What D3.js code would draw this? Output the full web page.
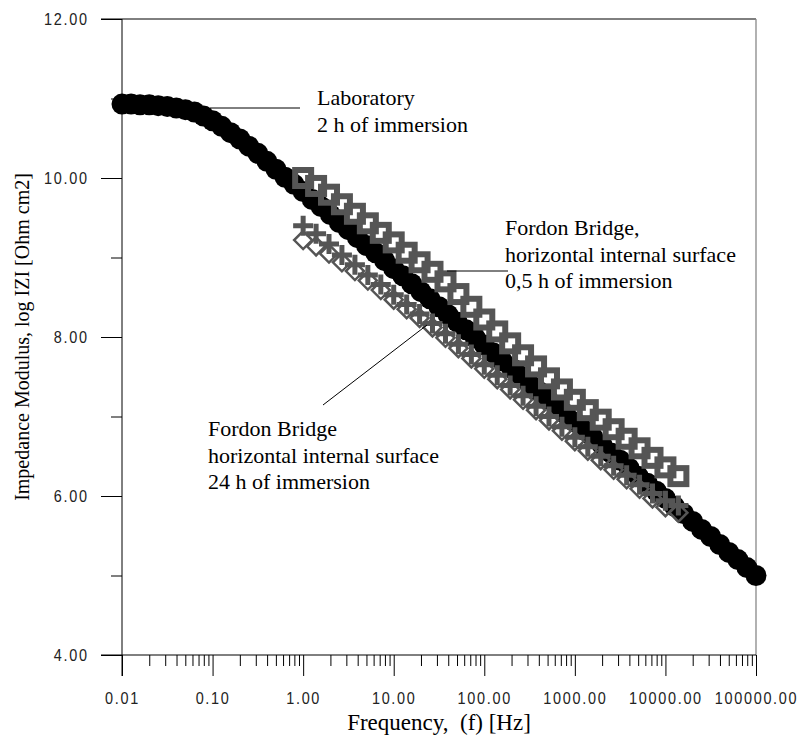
<!DOCTYPE html>
<html>
<head>
<meta charset="utf-8">
<script src="https://cdn.jsdelivr.net/npm/d3@7"></script>
<style>
  body { margin: 0; background: #fff; }
  .tick text { font-family: "Liberation Sans", Arial, sans-serif; }
</style>
</head>
<body>
<div class="chart"></div>
<script>
// laboratory sample, 10 points per decade
const freqLab = [0.01, 0.0126, 0.0158, 0.02, 0.0251, 0.0316, 0.0398, 0.0501, 0.0631, 0.0794,
  0.1, 0.126, 0.158, 0.2, 0.251, 0.316, 0.398, 0.501, 0.631, 0.794,
  1, 1.26, 1.58, 2, 2.51, 3.16, 3.98, 5.01, 6.31, 7.94,
  10, 12.6, 15.8, 20, 25.1, 31.6, 39.8, 50.1, 63.1, 79.4,
  100, 126, 158, 200, 251, 316, 398, 501, 631, 794,
  1000, 1260, 1580, 2000, 2510, 3160, 3980, 5010, 6310, 7940,
  10000, 12600, 15800, 20000, 25100, 31600, 39800, 50100, 63100, 79400, 100000];
const logZLab = [10.93, 10.93, 10.92, 10.92, 10.91, 10.90, 10.88, 10.86, 10.83, 10.78,
  10.72, 10.65, 10.57, 10.49, 10.40, 10.31, 10.21, 10.11, 10.01, 9.92,
  9.83, 9.73, 9.64, 9.54, 9.44, 9.35, 9.25, 9.15, 9.06, 8.96,
  8.86, 8.77, 8.67, 8.57, 8.48, 8.38, 8.28, 8.19, 8.09, 7.99,
  7.90, 7.80, 7.70, 7.61, 7.51, 7.41, 7.32, 7.22, 7.12, 7.03,
  6.93, 6.83, 6.74, 6.64, 6.54, 6.45, 6.35, 6.25, 6.16, 6.06,
  5.97, 5.87, 5.78, 5.68, 5.58, 5.49, 5.39, 5.29, 5.20, 5.10, 5.00];

// Fordon Bridge, 7 points per decade
const freqBridge = [1, 1.39, 1.93, 2.68, 3.73, 5.18, 7.2,
  10, 13.9, 19.3, 26.8, 37.3, 51.8, 72,
  100, 139, 193, 268, 373, 518, 720,
  1000, 1390, 1930, 2680, 3730, 5180, 7200,
  10000, 13900];
// 0,5 h of immersion (squares)
const logZHalf = [10.00, 9.90, 9.79, 9.67, 9.55, 9.43, 9.31,
  9.19, 9.06, 8.94, 8.82, 8.70, 8.54, 8.38,
  8.22, 8.07, 7.92, 7.77, 7.63, 7.48, 7.34,
  7.21, 7.08, 6.96, 6.84, 6.72, 6.60, 6.48,
  6.36, 6.25];
// 24 h of immersion (crosses)
const logZ24a = [9.40, 9.30, 9.17, 9.03, 8.91, 8.78, 8.66,
  8.53, 8.41, 8.29, 8.17, 8.04, 7.91, 7.78,
  7.65, 7.52, 7.39, 7.26, 7.13, 7.00, 6.87,
  6.74, 6.62, 6.50, 6.38, 6.26, 6.14, 6.03,
  5.94, 5.88];
// 24 h of immersion (diamonds)
const logZ24b = [9.22, 9.14, 9.05, 8.94, 8.83, 8.71, 8.59,
  8.47, 8.35, 8.24, 8.12, 7.99, 7.86, 7.73,
  7.60, 7.47, 7.34, 7.21, 7.08, 6.95, 6.82,
  6.69, 6.57, 6.45, 6.33, 6.21, 6.09, 5.97,
  5.86, 5.79];

const xMajor = [0.01, 0.1, 1, 10, 100, 1000, 10000, 100000];
const yMajor = [4, 6, 8, 10, 12];
const yMinor = [5, 7, 9, 11];

const grey = "#555555";
const serif = "'Liberation Serif', 'Times New Roman', serif";

const margin = { top: 19, right: 47, bottom: 81, left: 122 },
  width = 803 - margin.left - margin.right,
  height = 736 - margin.top - margin.bottom;

const svg = d3.select(".chart")
  .append("svg")
  .attr("width", 803)
  .attr("height", 736)
  .append("g")
  .attr("transform", `translate(${margin.left},${margin.top})`);

const x = d3.scaleLog().domain([0.01, 100000]).range([0, width]);
const y = d3.scaleLinear().domain([4, 12]).range([height, 0]);

// frame: top and right
svg.append("line").attr("x1", -21).attr("x2", width).attr("y1", 0).attr("y2", 0)
  .attr("stroke", "#000").attr("stroke-width", 1);
svg.append("line").attr("x1", width).attr("x2", width).attr("y1", 0).attr("y2", height)
  .attr("stroke", "#888").attr("stroke-width", 1.3);

// minor x ticks
const xMinor = [];
xMajor.slice(0, -1).forEach((d) => {
  for (let k = 2; k <= 9; k++) xMinor.push(d * k);
});

// tall, narrow, widely spaced tick labels
const sx = 0.85, ls = 2;
const tickFont = (g) => g.selectAll("text")
  .attr("font-size", 17)
  .style("letter-spacing", ls + "px")
  .attr("fill", "#222");

svg.append("g")
  .attr("transform", `translate(0,${height})`)
  .call(d3.axisBottom(x).tickValues(xMinor).tickSize(11).tickFormat(""))
  .call((g) => g.select(".domain").remove());

svg.append("g")
  .attr("transform", `translate(0,${height})`)
  .call(d3.axisBottom(x).tickValues(xMajor).tickSize(21).tickPadding(16)
    .tickFormat(d3.format(".2f")))
  .call((g) => g.select(".domain").attr("d", `M-21,0H${width}`))
  .call(tickFont)
  .call((g) => g.selectAll("text").attr("transform", `scale(${sx},1)`));

svg.append("g")
  .call(d3.axisLeft(y).tickValues(yMinor).tickSize(11).tickFormat(""))
  .call((g) => g.select(".domain").remove());

svg.append("g")
  .call(d3.axisLeft(y).tickValues(yMajor).tickSize(21)
    .tickFormat(d3.format(".2f")))
  .call((g) => g.select(".domain").attr("d", `M0,0V${height + 21}`))
  .call(tickFont)
  .call((g) => g.selectAll("text")
    .attr("x", -35 / sx + ls)
    .attr("transform", `scale(${sx},1)`));

// series
const lab = freqLab.map((f, i) => ({ f, v: logZLab[i] }));
const half = freqBridge.map((f, i) => ({ f, v: logZHalf[i] }));
const h24a = freqBridge.map((f, i) => ({ f, v: logZ24a[i] }));
const h24b = freqBridge.map((f, i) => ({ f, v: logZ24b[i] }));

svg.append("g").selectAll("circle")
  .data(lab)
  .join("circle")
  .attr("cx", (d) => x(d.f))
  .attr("cy", (d) => y(d.v))
  .attr("r", 10.5)
  .attr("fill", "#000");

svg.append("g").selectAll("path")
  .data(h24b)
  .join("path")
  .attr("transform", (d) => `translate(${x(d.f)},${y(d.v)})`)
  .attr("d", "M0,-9L9,0L0,9L-9,0Z")
  .attr("fill", "none")
  .attr("stroke", grey)
  .attr("stroke-width", 2.5);

svg.append("g").selectAll("path")
  .data(h24a)
  .join("path")
  .attr("transform", (d) => `translate(${x(d.f)},${y(d.v)})`)
  .attr("d", "M-10,0H10M0,-10V10")
  .attr("fill", "none")
  .attr("stroke", grey)
  .attr("stroke-width", 5);

svg.append("g").selectAll("rect")
  .data(half)
  .join("rect")
  .attr("x", (d) => x(d.f) - 8)
  .attr("y", (d) => y(d.v) - 8)
  .attr("width", 16)
  .attr("height", 16)
  .attr("fill", "none")
  .attr("stroke", grey)
  .attr("stroke-width", 6);

// annotations
const notes = [
  { x: 195, y: 86, lines: ["Laboratory", "2 h of immersion"] },
  { x: 383, y: 216, lines: ["Fordon Bridge,", "horizontal internal surface", "0,5 h of immersion"] },
  { x: 86, y: 417, lines: ["Fordon Bridge", "horizontal internal surface", "24 h of immersion"] },
];
notes.forEach((n) => {
  svg.append("text")
    .attr("x", n.x)
    .attr("y", n.y)
    .attr("font-family", serif)
    .attr("font-size", 22)
    .selectAll("tspan")
    .data(n.lines)
    .join("tspan")
    .attr("x", n.x)
    .attr("dy", (d, i) => (i === 0 ? 0 : 26.5))
    .text((d) => d);
});

const leaders = [
  [88, 89, 178, 89],
  [325, 252, 386, 252],
  [305, 306, 201, 386],
];
leaders.forEach((l) => {
  svg.append("line")
    .attr("x1", l[0]).attr("y1", l[1]).attr("x2", l[2]).attr("y2", l[3])
    .attr("stroke", "#000").attr("stroke-width", 1);
});

// axis titles
svg.append("text")
  .attr("x", width / 2)
  .attr("y", height + 75)
  .attr("text-anchor", "middle")
  .attr("font-family", serif)
  .attr("font-size", 23)
  .style("white-space", "pre")
  .text("Frequency,  (f) [Hz]");

svg.append("text")
  .attr("transform", `translate(${-93},${height / 2}) rotate(-90)`)
  .attr("text-anchor", "middle")
  .attr("font-family", serif)
  .attr("font-size", 20)
  .text("Impedance Modulus, log IZI [Ohm cm2]");
</script>
</body>
</html>
